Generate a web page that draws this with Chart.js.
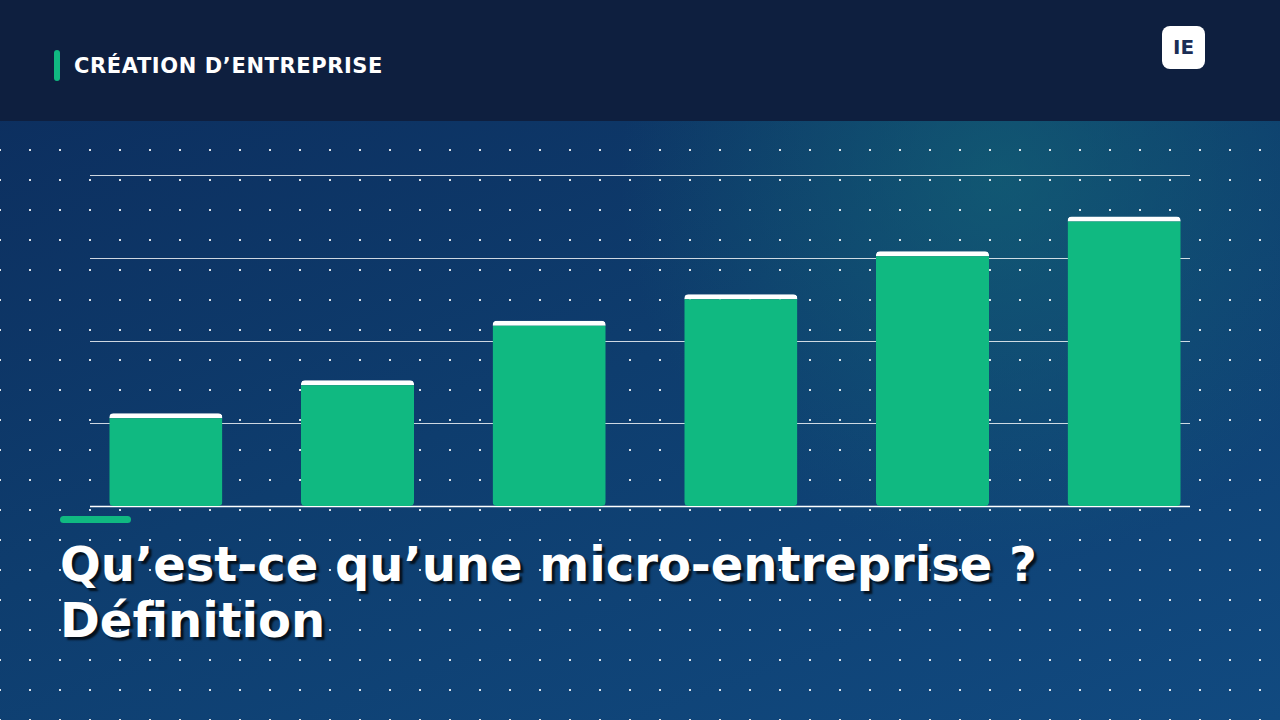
<!DOCTYPE html>
<html lang="fr">
<head>
<meta charset="UTF-8">
<title>Micro-entreprise</title>
<script src="https://cdn.jsdelivr.net/npm/chart.js"></script>
<style>
  html, body { margin: 0; width: 1280px; height: 720px; overflow: hidden; font-family: "DejaVu Sans", sans-serif; }
  .page { position: relative; width: 1280px; height: 720px;
    background: radial-gradient(circle at 1000px 180px, rgba(20,110,120,0.55), rgba(20,110,120,0) 380px),
                linear-gradient(160deg, #0c2c5c 0%, #0e3d6e 50%, #114a80 100%); }
  .dots { position: absolute; left: 0; top: 120px; width: 1280px; height: 600px;
    background-image: radial-gradient(circle, rgba(255,255,255,0.85) 1px, transparent 1.3px);
    background-size: 30px 30px; background-position: 15px 15px; }
  .header { position: absolute; left: 0; top: 0; width: 1280px; height: 121px; background: #0e1f3f; }
  .pill { position: absolute; left: 54px; top: 50px; width: 6px; height: 31px; border-radius: 3px; background: #10b981; }
  .cat { position: absolute; left: 74px; top: 54px; color: #fff; font-weight: bold; font-size: 21px; letter-spacing: 0.6px; }
  .badge { position: absolute; left: 1162px; top: 26px; width: 43px; height: 43px; border-radius: 8px; background: #fff;
    color: #1a2d55; font-weight: bold; font-size: 20px; text-align: center; line-height: 43px; }
  .chartbox { position: absolute; left: 0; top: 121px; width: 1280px; height: 400px; }
  .accent { position: absolute; left: 60px; top: 516px; width: 71px; height: 7px; border-radius: 4px; background: #10b981; }
  .title { position: absolute; left: 60px; top: 536px; color: #fff; font-weight: bold; font-size: 48px; line-height: 56px;
    text-shadow: 3px 3px 2px rgba(0,0,0,0.75); }
</style>
</head>
<body>
<div class="page">
  <div class="dots"></div>
  <div class="header">
    <div class="pill"></div>
    <div class="cat">CRÉATION D’ENTREPRISE</div>
    <div class="badge">IE</div>
  </div>
  <div class="chartbox"><canvas id="bars" width="1280" height="400"></canvas></div>
  <div class="accent"></div>
  <div class="title">Qu’est-ce qu’une micro-entreprise ?<br>Définition</div>
</div>
<script>
  const categories = ['1', '2', '3', '4', '5', '6'];
  const values = [28, 38, 56, 64, 77, 87.5];

  // lignes de grille dessinées à la main, un peu plus courtes que la zone du graphique
  const gridPlugin = {
    id: 'shortGrid',
    beforeDatasetsDraw(chart) {
      const y = chart.scales.y, c = chart.ctx;
      c.save();
      y.ticks.forEach(t => {
        const py = Math.round(y.getPixelForValue(t.value)) + 0.5;
        c.strokeStyle = t.value === 0 ? '#ffffff' : 'rgba(255,255,255,0.8)';
        c.lineWidth = t.value === 0 ? 1.5 : 1;
        c.beginPath(); c.moveTo(90, py); c.lineTo(1190, py); c.stroke();
      });
      c.restore();
    }
  };

  new Chart(document.getElementById('bars'), {
    type: 'bar',
    data: {
      labels: categories,
      datasets: [{
        data: values,
        backgroundColor: '#10b981',
        borderColor: '#ffffff',
        borderWidth: { top: 5, left: 0, right: 0, bottom: 0 },
        borderSkipped: false,
        borderRadius: 4,
        categoryPercentage: 0.59,
        barPercentage: 1
      }]
    },
    options: {
      responsive: false,
      animation: false,
      layout: { padding: { left: 70, right: 60, top: 54, bottom: 15 } },
      plugins: { legend: { display: false }, tooltip: { enabled: false } },
      scales: {
        x: { display: false },
        y: { display: false, min: 0, max: 100, ticks: { stepSize: 25 } }
      }
    },
    plugins: [gridPlugin]
  });
</script>
</body>
</html>
